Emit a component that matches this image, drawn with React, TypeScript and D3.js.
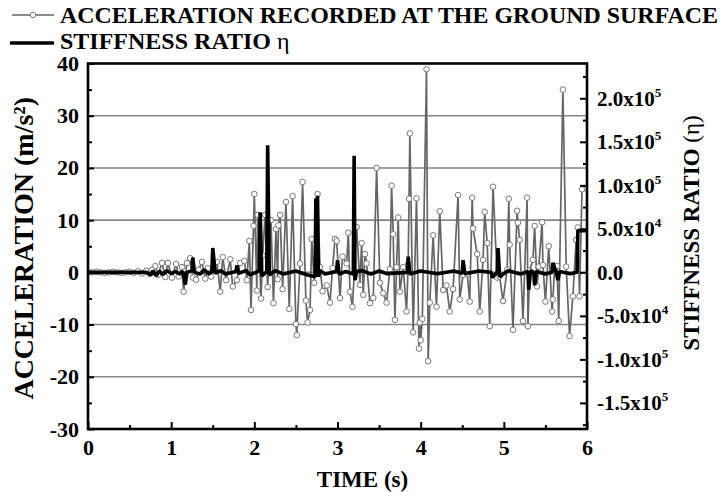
import { useRef, useEffect } from 'react';
import * as d3 from 'd3';

const accTime = [
  0.0, 0.05, 0.1, 0.15, 0.2, 0.25, 0.3, 0.35, 0.4, 0.45, 0.5, 0.55, 0.6, 0.65, 0.7, 0.74,
  0.77, 0.81, 0.84, 0.89, 0.93, 0.96, 1.01, 1.06, 1.09, 1.13, 1.15, 1.19, 1.23, 1.26, 1.3, 1.33,
  1.37, 1.41, 1.44, 1.48, 1.51, 1.55, 1.59, 1.62, 1.66, 1.71, 1.74, 1.79, 1.83, 1.88, 1.91, 1.94,
  1.96, 1.99, 2.0, 2.03, 2.04, 2.08, 2.1, 2.13, 2.16, 2.2, 2.23, 2.26, 2.28, 2.29, 2.31, 2.34,
  2.38, 2.42, 2.46, 2.5, 2.51, 2.55, 2.58, 2.62, 2.64, 2.67, 2.69, 2.72, 2.76, 2.79, 2.82, 2.87,
  2.91, 2.94, 2.97, 2.99, 3.03, 3.06, 3.11, 3.13, 3.15, 3.18, 3.23, 3.27, 3.29, 3.31, 3.33, 3.35,
  3.39, 3.43, 3.47, 3.51, 3.55, 3.59, 3.63, 3.65, 3.67, 3.69, 3.71, 3.73, 3.75, 3.79, 3.83, 3.85,
  3.86, 3.87, 3.91, 3.95, 3.98, 3.99, 4.0, 4.02, 4.07, 4.09, 4.11, 4.15, 4.19, 4.23, 4.27, 4.31,
  4.35, 4.39, 4.45, 4.47, 4.51, 4.56, 4.59, 4.62, 4.63, 4.68, 4.71, 4.75, 4.77, 4.8, 4.83, 4.87,
  4.92, 4.95, 4.99, 5.04, 5.06, 5.07, 5.11, 5.16, 5.17, 5.19, 5.23, 5.28, 5.29, 5.31, 5.35, 5.37,
  5.4, 5.42, 5.46, 5.47, 5.5, 5.54, 5.58, 5.59, 5.61, 5.64, 5.66, 5.71, 5.75, 5.79, 5.83, 5.87,
  5.89, 5.91, 5.94, 6.0,
];
const accValue = [
  0, 0, 0.1, 0, -0.1, 0, 0.1, 0, -0.1, 0, 0.1, -0.1, 0.2, -0.2, 0.3, -0.3,
  0.5, 1.2, -0.5, 1.8, -0.9, 1.8, -1.0, 1.6, -0.8, 1.0, -3.7, 1.8, 2.7, -1.0, -1.4, 0.5,
  2.0, -1.2, 0.8, -0.8, 0.6, 2.0, -3.7, 2.9, -1.5, 2.5, -2.7, -1.5, 1.8, 2.2, -1.5, 6.0,
  -7.2, 8.9, 15.0, -3.5, 11.0, -5.0, 3.2, 11.0, -2.8, 10.0, -5.9, 8.3, -1.3, 9.0, 11.0, -3.2,
  13.5, -7.0, 14.6, -9.9, -12.0, 1.7, 17.3, -5.4, -9.6, -7.2, 6.4, -2.0, 15.0, 1.0, -3.6, -2.5,
  -5.8, 0.8, 6.4, 6.0, -4.9, 3.0, 1.7, 7.6, -3.7, -6.6, 8.7, -2.4, 5.6, -4.3, 3.5, 1.7,
  -5.9, -4.9, 20.0, -2.0, -4.0, -5.8, 0.6, 16.6, 7.3, -9.1, 1.0, 10.5, -3.7, 1.0, -7.5, 1.5,
  14.1, 26.6, -11.5, 14.2, -14.6, -9.6, -13.0, -8.9, 38.9, -17.0, -5.8, 7.1, -6.6, 11.7, -3.4, -2.5,
  -7.5, -3.2, 14.8, -5.2, -0.5, -0.3, -5.6, 14.3, 8.4, 3.5, -7.5, 2.4, 11.6, 5.6, -10.3, 16.4,
  -1.0, -0.8, -5.5, 0.5, 14.1, 5.3, -11.0, 11.8, 9.5, 6.2, -9.3, 14.3, -10.3, 0.3, 2.4, 8.9,
  -2.7, 1.1, 9.6, 1.4, -5.6, 5.0, -7.5, -5.2, 1.0, 1.2, -9.3, 35.0, 1.1, -12.2, -4.6, 6.2,
  8.6, -4.6, 15.9, 16.0,
];

// stiffness ratio eta
const etaTime = [
  0.0, 0.7, 0.76, 0.78, 0.82, 0.86, 0.9, 0.95, 1.0, 1.05, 1.1, 1.14, 1.17, 1.19, 1.25, 1.26,
  1.28, 1.35, 1.4, 1.45, 1.49, 1.5, 1.53, 1.6, 1.65, 1.78, 1.79, 1.81, 1.9, 1.95, 2.06, 2.07,
  2.09, 2.15, 2.16, 2.18, 2.25, 2.35, 2.5, 2.64, 2.73, 2.74, 2.75, 2.76, 2.77, 2.79, 2.85, 2.99,
  3.0, 3.02, 3.1, 3.19, 3.2, 3.21, 3.23, 3.3, 3.4, 3.5, 3.6, 3.84, 3.85, 3.87, 4.0, 4.2,
  4.4, 4.5, 4.51, 4.53, 4.7, 4.85, 4.86, 4.92, 4.93, 4.95, 5.05, 5.2, 5.29, 5.3, 5.32, 5.36,
  5.37, 5.39, 5.5, 5.58, 5.59, 5.63, 5.65, 5.67, 5.8, 5.88, 5.89, 6.0,
];
const etaValue = [
  0, 0, -3000, 2000, -4000, 1500, -2500, 2000, -1500, 1000, -2000, 1000, -14000, 0, 2000, 17000,
  0, -2000, 3000, -2000, 1000, 28000, -1000, 2000, -2000, 1000, 8000, -1000, 2000, -3000, 2000, 69000,
  -4000, 1000, 146000, -3000, 2000, -2000, 1500, -3000, -5000, 85000, 20000, 88000, -5000, 2000, -2000, 1000,
  14000, -2000, 1000, -2000, 134000, -9000, 1000, 2000, -2000, 1500, -1500, 0, 18000, -2000, 1500, -1500,
  1500, -1000, 14000, -1500, 1500, 0, -6000, 0, 28000, -5000, 2000, -2000, 1000, -20000, 2000, 0,
  -15000, 1000, -2000, 0, 11000, 0, -9000, 1000, -1500, 0, 48000, 48000,
];

const timeTicks = [0, 1, 2, 3, 4, 5, 6];
const accTicks = [40, 30, 20, 10, 0, -10, -20, -30];
const etaTicks = [200000, 150000, 100000, 50000, 0, -50000, -100000, -150000];
const etaTickMain = ['2.0x10', '1.5x10', '1.0x10', '5.0x10', '0.0', '-5.0x10', '-1.0x10', '-1.5x10'];
const etaTickExp = ['5', '5', '5', '4', '', '4', '5', '5'];

const serif = '"Liberation Serif", "Times New Roman", Times, serif';

const App = () => {
  const svgRef = useRef(null);

  useEffect(() => {
    const svg = d3.select(svgRef.current);
    svg.selectAll('*').remove();

    const left = 88, right = 587, top = 63.5, bottom = 429;

    const x = d3.scaleLinear().domain([0, 6]).range([left, right]);
    const y = d3.scaleLinear().domain([-30, 40]).range([bottom, top]);
    const y2 = d3.scaleLinear().domain([-180000, 240000]).range([bottom, top]);

    svg.append('clipPath').attr('id', 'plot-clip')
      .append('rect').attr('x', left).attr('y', top).attr('width', right - left).attr('height', bottom - top);

    // grid
    svg.append('g').selectAll('line')
      .data(accTicks.filter((d) => d > -30 && d < 40))
      .join('line')
      .attr('x1', left).attr('x2', right)
      .attr('y1', (d) => y(d)).attr('y2', (d) => y(d))
      .attr('stroke', '#858585').attr('stroke-width', 1.6);

    const plot = svg.append('g').attr('clip-path', 'url(#plot-clip)');

    const acc = accTime.map((t, i) => ({ t, v: accValue[i] }));
    const eta = etaTime.map((t, i) => ({ t, v: etaValue[i] }));

    const accLine = d3.line().x((d) => x(d.t)).y((d) => y(d.v));
    const etaLine = d3.line().x((d) => x(d.t)).y((d) => y2(d.v));

    plot.append('path').datum(acc).attr('d', accLine)
      .attr('fill', 'none').attr('stroke', '#666').attr('stroke-width', 1.7)
      .attr('stroke-linejoin', 'round');

    plot.append('g').selectAll('circle').data(acc).join('circle')
      .attr('cx', (d) => x(d.t)).attr('cy', (d) => y(d.v)).attr('r', 2.8)
      .attr('fill', '#fff').attr('stroke', '#777').attr('stroke-width', 1);

    plot.append('path').datum(eta).attr('d', etaLine)
      .attr('fill', 'none').attr('stroke', '#000').attr('stroke-width', 3.6)
      .attr('stroke-linejoin', 'bevel');

    // axes (ticks point inward)
    const styleAxis = (g, size) => {
      g.select('.domain').remove();
      g.selectAll('line').attr('stroke', '#000').attr('stroke-width', 2);
      g.attr('font-family', serif).attr('font-size', size).attr('font-weight', 'bold');
    };

    svg.append('g').attr('transform', `translate(${left},0)`)
      .call(d3.axisLeft(y).tickValues(d3.range(-25, 40, 10)).tickSize(-4).tickFormat(() => ''))
      .call((g) => styleAxis(g, 22));
    svg.append('g').attr('transform', `translate(${left},0)`)
      .call(d3.axisLeft(y).tickValues(accTicks).tickSize(-6).tickPadding(9).tickFormat((d) => String(d)))
      .call((g) => styleAxis(g, 22));

    svg.append('g').attr('transform', `translate(0,${bottom})`)
      .call(d3.axisBottom(x).tickValues(d3.range(0.5, 6, 1)).tickSize(-4).tickFormat(() => ''))
      .call((g) => styleAxis(g, 22));
    svg.append('g').attr('transform', `translate(0,${bottom})`)
      .call(d3.axisBottom(x).tickValues(timeTicks).tickSize(-7).tickPadding(10).tickFormat((d) => String(d)))
      .call((g) => styleAxis(g, 22));

    svg.append('g').attr('transform', `translate(${right},0)`)
      .call(d3.axisRight(y2).tickValues(d3.range(-175000, 240000, 50000)).tickSize(-4).tickFormat(() => ''))
      .call((g) => styleAxis(g, 21));
    const rAxis = svg.append('g').attr('transform', `translate(${right},0)`)
      .call(d3.axisRight(y2).tickValues(etaTicks).tickSize(-7).tickPadding(10).tickFormat(() => ''))
      .call((g) => styleAxis(g, 21));
    rAxis.selectAll('.tick text').each(function (_, i) {
      const t = d3.select(this);
      t.append('tspan').text(etaTickMain[i]);
      if (etaTickExp[i]) t.append('tspan').attr('dy', -9).attr('font-size', 13).text(etaTickExp[i]);
    });

    // frame
    svg.append('rect').attr('x', left).attr('y', top)
      .attr('width', right - left).attr('height', bottom - top)
      .attr('fill', 'none').attr('stroke', '#000').attr('stroke-width', 2.6);

    // axis titles
    svg.append('text')
      .attr('transform', `translate(${(left + right) / 2 + 25},487)`)
      .attr('text-anchor', 'middle').attr('font-family', serif).attr('font-weight', 'bold').attr('font-size', 23)
      .text('TIME (s)');

    svg.append('text')
      .attr('transform', `translate(33,${(top + bottom) / 2 + 2}) rotate(-90)`)
      .attr('text-anchor', 'middle').attr('font-family', serif).attr('font-weight', 'bold').attr('font-size', 28)
      .text('ACCELERATION (m/s²)');

    const rt = svg.append('text')
      .attr('transform', `translate(699,233) rotate(-90)`)
      .attr('text-anchor', 'middle').attr('font-family', serif).attr('font-size', 23);
    rt.append('tspan').attr('font-weight', 'bold').text('STIFFNESS RATIO ');
    rt.append('tspan').text('(η)');

    // legend
    const lg = svg.append('g');
    lg.append('line').attr('x1', 12).attr('x2', 54).attr('y1', 15).attr('y2', 15)
      .attr('stroke', '#666').attr('stroke-width', 1.7);
    lg.append('circle').attr('cx', 33).attr('cy', 15).attr('r', 2.8)
      .attr('fill', '#fff').attr('stroke', '#777');
    lg.append('text').attr('x', 60).attr('y', 23)
      .attr('font-family', serif).attr('font-weight', 'bold').attr('font-size', 24)
      .attr('textLength', 658).attr('lengthAdjust', 'spacingAndGlyphs')
      .text('ACCELERATION RECORDED AT THE GROUND SURFACE');
    lg.append('line').attr('x1', 10).attr('x2', 54).attr('y1', 43).attr('y2', 43)
      .attr('stroke', '#000').attr('stroke-width', 3.4);
    const l2 = lg.append('text').attr('x', 60).attr('y', 49)
      .attr('font-family', serif).attr('font-size', 24);
    l2.append('tspan').attr('font-weight', 'bold').text('STIFFNESS RATIO ');
    l2.append('tspan').text('η');
  }, []);

  return (
    <div className='App'>
      <svg
        ref={svgRef}
        width={720}
        height={492}
        style={{ position: 'absolute', left: 0, top: 0, background: '#fff' }}
      ></svg>
    </div>
  );
};

export default App;
